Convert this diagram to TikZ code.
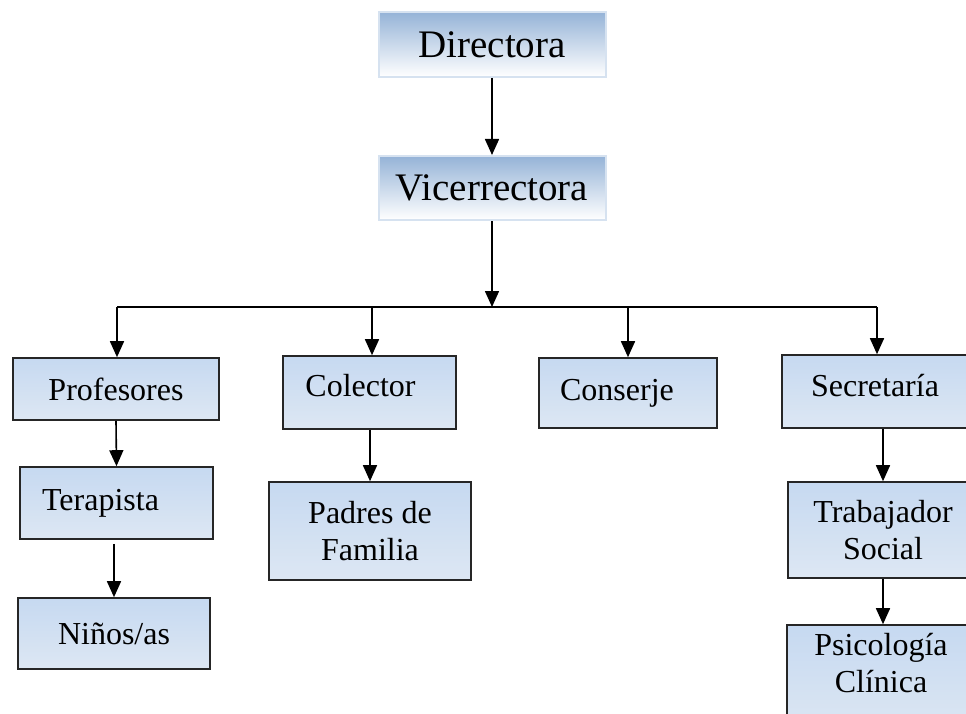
\documentclass[tikz,border=0pt]{standalone}
\usepackage{fontspec}
\setmainfont{Liberation Serif}
\usetikzlibrary{arrows.meta,positioning}

\definecolor{boxtop}{HTML}{C6D9F1}
\definecolor{boxbot}{HTML}{DDE7F3}
\definecolor{headtop}{HTML}{95B3D7}
\definecolor{headline}{HTML}{D6E2F0}

\tikzset{
  headbox/.style={rectangle, draw=headline, line width=2pt, top color=headtop, bottom color=white,
    font=\fontsize{39}{43}\selectfont, inner sep=0pt},
  orgbox/.style={rectangle, draw=black!85, line width=1.6pt, top color=boxtop, bottom color=boxbot,
    font=\fontsize{32}{37}\selectfont, align=center, inner sep=0pt},
  arr/.style={line width=1.6pt, -{Triangle[length=16pt,width=14pt]}},
}

\begin{document}
\begin{tikzpicture}[x=1pt, y=-1pt]
\useasboundingbox (0,0) rectangle (966,714);
\clip (0,0) rectangle (966,714);
% top of the chart
\node[headbox, minimum width=227pt, minimum height=65pt] (dir) at (492,44.5) {Directora};
\node[headbox, minimum width=227pt, minimum height=64pt] (vice) at (492,188) {Vicerrectora};
\coordinate (bus) at (492,307);
\coordinate (busl) at (117,307);
\coordinate (busr) at (877,307);
% second level
\node[orgbox, minimum width=206pt, minimum height=62pt] (prof) at (116,389) {Profesores};
\node[orgbox, minimum width=173pt, minimum height=73pt, text depth=14pt] (col) at (369.5,392.5) {Colector\hspace{18pt}};
\node[orgbox, minimum width=178pt, minimum height=70pt] (con) at (628,393) {Conserje\hspace{22pt}};
\node[orgbox, minimum width=186pt, minimum height=73pt, text depth=12pt] (sec) at (875,391.5) {Secretaría};
% lower levels
\node[orgbox, minimum width=193pt, minimum height=72pt] (ter) at (116.5,503) {Terapista\hspace{32pt}};
\node[orgbox, minimum width=192pt, minimum height=71pt] (nin) at (114,633.5) {Niños/as};
\node[orgbox, minimum width=202pt, minimum height=98pt] (pad) at (370,531) {Padres de\\Familia};
\node[orgbox, minimum width=190pt, minimum height=96pt] (tra) at (883,530) {Trabajador\\Social};
\node[orgbox, minimum width=188pt, minimum height=110pt, text depth=34pt] (psi) at (881,680) {Psicología\\Clínica};

\draw[arr] (dir.south) -- (vice.north);
\draw[arr] (vice.south) -- (bus);
\draw[line width=1.6pt] (busl) -- (busr);
\foreach \n/\x in {prof/117, col/372, con/628, sec/877}
  \draw[arr] (\x,307) -- (\x,0 |- \n.north);
\draw[arr] (prof.south) -- (ter.north);
\draw[arr, shorten <=4pt] (nin.north |- ter.south) -- (nin.north);
\draw[arr] (pad.north |- col.south) -- (pad.north);
\draw[arr] (tra.north |- sec.south) -- (tra.north);
\draw[arr] (tra.south) -- (tra.south |- psi.north);
\end{tikzpicture}
\end{document}
